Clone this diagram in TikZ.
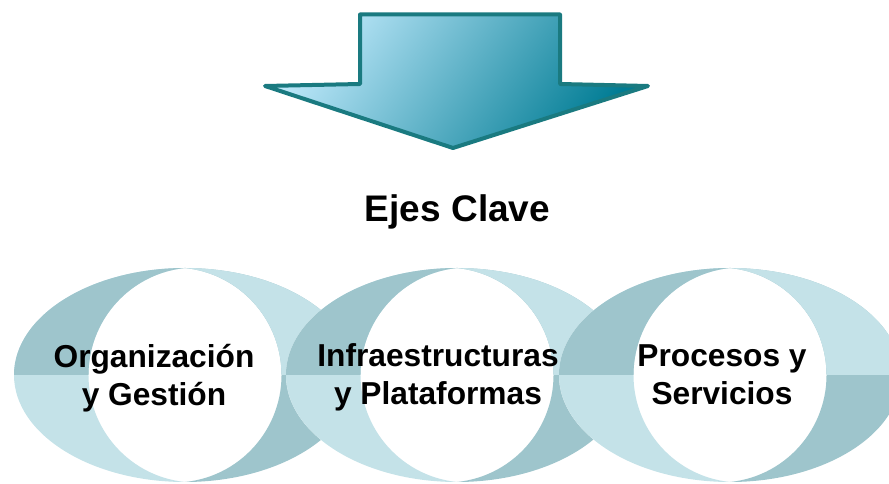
\documentclass[tikz,border=0pt]{standalone}
\usepackage{fontspec}
\setmainfont{Liberation Sans}
\definecolor{ringdark}{RGB}{158,197,204}
\definecolor{ringlight}{RGB}{196,226,232}
\definecolor{arrowline}{RGB}{26,122,128}
\definecolor{arrowlight}{RGB}{190,232,250}
\definecolor{arrowdark}{RGB}{0,124,148}
\tikzset{
  labeltext/.style={font=\bfseries\fontsize{31.7}{38}\selectfont, align=center, anchor=base, inner sep=0pt},
  titletext/.style={font=\bfseries\fontsize{37}{44}\selectfont, anchor=base, inner sep=0pt},
  bigarrow/.style={draw=arrowline, line width=4pt, line join=round,
     left color=arrowlight, right color=arrowdark, shading angle=55}
}
\newcommand{\leftcres}[1]{(#1,216) arc[start angle=90, end angle=270, x radius=171, y radius=107]
   arc[start angle=264.1, end angle=95.9, radius=107.57] -- cycle}
\newcommand{\rightcres}[1]{(#1,216) arc[start angle=90, end angle=-90, x radius=171, y radius=107]
   arc[start angle=-84.1, end angle=84.1, radius=107.57] -- cycle}
\begin{document}
\begin{tikzpicture}[x=1pt,y=1pt]
\useasboundingbox (0,0) rectangle (889,484);
\begin{scope}
\clip (0,0) rectangle (889,484);
% arrow
\shade[bigarrow] (360,469.5) -- (560,469.5) -- (560,400) -- (648,398) -- (453,336) -- (265,398) -- (360,400) -- cycle;
% rings
\foreach \cx in {185, 457, 730}{
  \fill[white] (\cx,109) ellipse[x radius=171, y radius=107];
  \fill[ringlight] \leftcres{\cx};
  \begin{scope}
    \clip (\cx-200,109) rectangle (\cx+200,300);
    \fill[ringdark] \leftcres{\cx};
  \end{scope}
  \fill[ringdark] \rightcres{\cx};
  \begin{scope}
    \clip (\cx-200,109) rectangle (\cx+200,300);
    \fill[ringlight] \rightcres{\cx};
  \end{scope}
}
\end{scope}
\node[titletext] (title) at (457.5,262) {Ejes Clave};
\node[labeltext] (org) at (154,78) {Organización\\y Gestión};
\node[labeltext] (inf) at (438,79) {Infraestructuras\\y Plataformas};
\node[labeltext] (pro) at (722,79) {Procesos y\\Servicios};
\end{tikzpicture}
\end{document}
